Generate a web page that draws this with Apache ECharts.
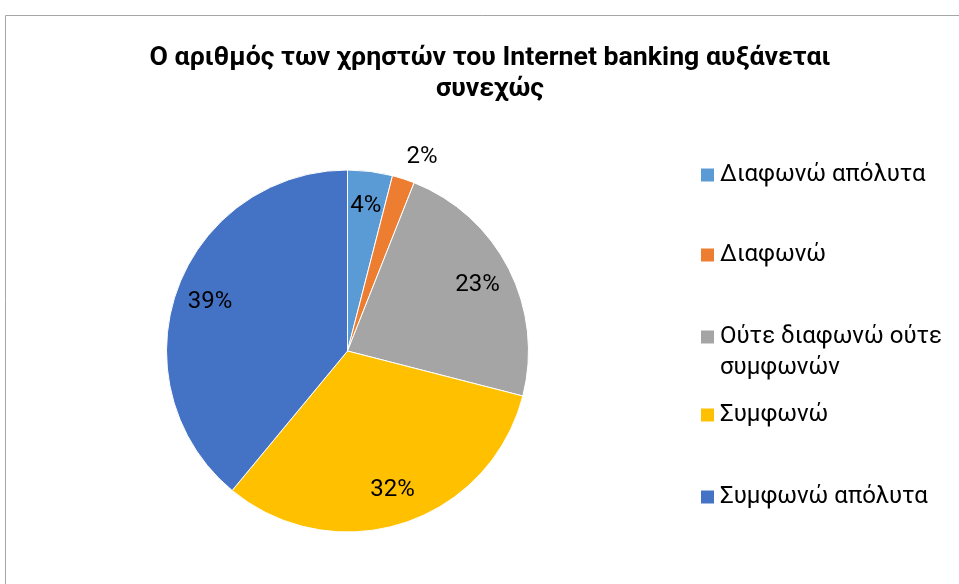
<!DOCTYPE html>
<html>
<head>
<meta charset="utf-8">
<script src="https://cdn.jsdelivr.net/npm/echarts@6/dist/echarts.min.js"></script>
<style>
  html, body { margin: 0; padding: 0; background: #fff; }
  #chart { width: 959px; height: 584px; }
</style>
</head>
<body>
<div id="chart"></div>
<script>
// Survey answers and their shares (%)
const categories = ['Διαφωνώ απόλυτα', 'Διαφωνώ', 'Ούτε διαφωνώ ούτε συμφωνών', 'Συμφωνώ', 'Συμφωνώ απόλυτα'];
const shares = [4, 2, 23, 32, 39];
const colors = ['#5B9BD5', '#ED7D31', '#A5A5A5', '#FFC000', '#4472C4'];
const titleText = 'Ο αριθμός των χρηστών του Internet banking αυξάνεται\nσυνεχώς';

const FONT = 'Roboto, "Noto Sans", sans-serif';
const center = [347.5, 351];
const R = 181;

// solid pie
const pieData = categories.map((name, i) => ({
  name, value: shares[i], itemStyle: { color: colors[i] }
}));

// transparent ring on top, used only to carry the percentage labels
const labelData = categories.map((name, i) => {
  const d = { name, value: shares[i] };
  if (shares[i] < 3) {
    d.label = { position: 'outside', distanceToLabelLine: -4 };
    d.labelLine = { show: false, length: 23, length2: 0 };
  }
  return d;
});

// one legend block per entry so the vertical spacing can be set per entry
const legendTops = [159.5, 239.5, 306, 399.5, 481.5];
const legends = categories.map((name, i) => ({
  data: [name],
  orient: 'vertical',
  left: 699,
  top: legendTops[i],
  padding: 0,
  itemWidth: 15,
  itemHeight: 15,
  itemGap: 0,
  icon: 'rect',
  selectedMode: false,
  formatter: n => n === 'Ούτε διαφωνώ ούτε συμφωνών'
    ? '{a|Ούτε διαφωνώ ούτε}\n{b|συμφωνών}'
    : n,
  textStyle: {
    fontFamily: FONT, fontSize: 24, color: '#000', lineHeight: 31,
    rich: {
      a: { fontFamily: FONT, fontSize: 24, color: '#000', lineHeight: 61 },
      b: { fontFamily: FONT, fontSize: 24, color: '#000', lineHeight: 1 }
    }
  }
}));

const chart = echarts.init(document.getElementById('chart'), null, { renderer: 'canvas' });
chart.setOption({
  backgroundColor: '#fff',
  animation: false,
  title: {
    text: titleText,
    left: 490,
    textAlign: 'center',
    top: 43,
    padding: 0,
    textStyle: {
      fontFamily: FONT, fontWeight: 'bold', fontSize: 26.7, color: '#000', lineHeight: 31
    }
  },
  legend: legends,
  graphic: [{
    type: 'rect',
    shape: { x: 5.5, y: 15.5, width: 2000, height: 2000 },
    style: { fill: 'none', stroke: '#A6A6A6', lineWidth: 1 },
    silent: true
  }],
  series: [{
    type: 'pie',
    center: center,
    radius: [0, R],
    startAngle: 90,
    clockwise: true,
    data: pieData,
    label: { show: false },
    labelLine: { show: false },
    itemStyle: { borderColor: '#fff', borderWidth: 1 },
    emphasis: { disabled: true }
  }, {
    type: 'pie',
    center: center,
    radius: [105, R],
    startAngle: 90,
    clockwise: true,
    silent: true,
    data: labelData,
    itemStyle: { color: 'rgba(0,0,0,0)' },
    label: {
      show: true,
      position: 'inside',
      formatter: '{c}%',
      fontFamily: FONT, fontSize: 24, color: '#000'
    },
    labelLine: { show: false },
    emphasis: { disabled: true }
  }]
});
</script>
</body>
</html>
